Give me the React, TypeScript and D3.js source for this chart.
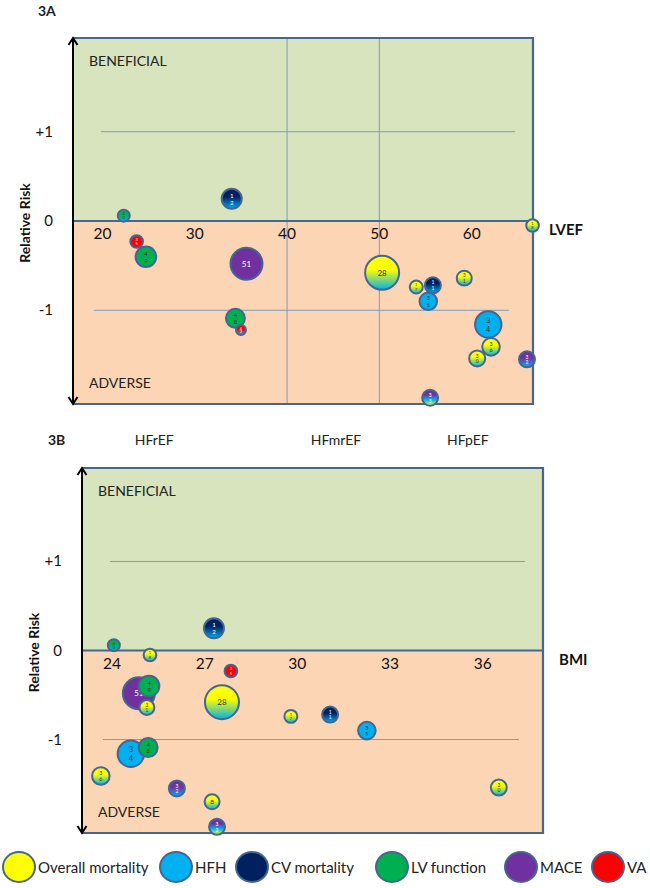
import React from "react";
import * as d3 from "d3";

// outcomes (legend) and their colours
const outcomeNames = ["Overall mortality", "HFH", "CV mortality", "LV function", "MACE", "VA"];
const outcomeColors = ["#ffff00", "#00b0f0", "#002060", "#00b050", "#7030a0", "#ff0000"];

// one entry per study bubble
const studyRefs = ["12", "40", "35", "49", "51", "48", "42", "18", "28", "17", "11", "35", "31", "34", "36", "30", "32", "33", "8"];
const studyOutcomes = [
  ["CV mortality", "HFH"],
  ["LV function", "HFH"],
  ["VA"],
  ["LV function"],
  ["MACE"],
  ["LV function"],
  ["VA", "HFH"],
  ["Overall mortality", "HFH"],
  ["Overall mortality", "HFH"],
  ["Overall mortality", "HFH"],
  ["CV mortality", "HFH"],
  ["HFH"],
  ["Overall mortality", "HFH"],
  ["HFH"],
  ["Overall mortality", "HFH"],
  ["Overall mortality", "HFH"],
  ["MACE", "HFH"],
  ["MACE", "HFH", "Overall mortality"],
  ["Overall mortality", "HFH"],
];
const studyWeights = [100, 36, 40, 106, 256, 90, 25, 40, 289, 42, 64, 77, 56, 174, 77, 64, 64, 64, 56];
const relativeRisk = [0.25, 0.06, -0.23, -0.4, -0.48, -1.09, -1.22, -0.05, -0.58, -0.74, -0.72, -0.9, -0.64, -1.16, -1.41, -1.54, -1.55, -1.98, -1.7];
const lvefValues = [34.0, 22.3, 23.7, 24.7, 35.6, 34.4, 35.0, 66.6, 50.3, 54.0, 55.8, 55.3, 59.2, 61.8, 62.1, 60.6, 66.0, 55.5, null];
const bmiValues = [27.3, 24.06, 27.85, 25.2, 24.87, 25.17, null, 25.23, 27.56, 29.79, 31.06, 32.25, 25.13, 24.61, 23.64, 36.52, 26.1, 27.4, 27.24];

// axes
const rrTicks = [1, 0, -1];
const rrTickLabels = ["+1", "0", "-1"];
const lvefTicks = [20, 30, 40, 50, 60];
const lvefGrid = [40, 50];
const bmiTicks = [24, 27, 30, 33, 36];
const efGroups = ["HFrEF", "HFmrEF", "HFpEF"];
const efGroupAt = [25.6, 45.3, 59.6];

const FONT = "Lato, 'Open Sans', sans-serif";
const BORDER = "#44668f";
const GRID = "#7f9cc0";
const darkOutcomes = ["CV mortality", "MACE", "VA"];

const colorOf = (name: string) => outcomeColors[outcomeNames.indexOf(name)];
const gradId = (outs: string[]) => "g-" + outs.map((o) => outcomeNames.indexOf(o)).join("-");

const rScale = d3.scaleSqrt().domain([0, d3.max(studyWeights) as number]).range([0, 17]);

function gradStops(cols: string[]) {
  if (cols.length === 1) return [{ o: 0, c: cols[0] }, { o: 1, c: cols[0] }];
  if (cols.length === 2) return [{ o: 0, c: cols[0] }, { o: 0.4, c: cols[0] }, { o: 1, c: cols[1] }];
  return [{ o: 0, c: cols[0] }, { o: 0.3, c: cols[0] }, { o: 0.62, c: cols[1] }, { o: 1, c: cols[2] }];
}

function Arrow({ x, y, dir }: { x: number; y: number; dir: number }) {
  // dir -1 = up, 1 = down
  return (
    <path
      d={`M${x - 4.5},${y - dir * 7} L${x},${y} L${x + 4.5},${y - dir * 7}`}
      fill="none"
      stroke="#000"
      strokeWidth={2}
    />
  );
}

function Panel({ box, xDomain, xTicks, xValues, xLabel, vGrid }: any) {
  const { x0, x1, y0, y1 } = box;
  const x = d3.scaleLinear().domain(xDomain).range([x0, x1]);
  const y = d3.scaleLinear().domain([-2.05, 2.05]).range([y1, y0]);
  const zero = y(0);

  const pts = studyRefs
    .map((ref, i) => ({ ref, i, xv: xValues[i], r: rScale(studyWeights[i]), outs: studyOutcomes[i] }))
    .filter((d) => d.xv != null)
    .sort((a, b) => b.r - a.r);

  return (
    <g>
      <rect x={x0} y={y0} width={x1 - x0} height={zero - y0} fill="#d7e4bd" />
      <rect x={x0} y={zero} width={x1 - x0} height={y1 - zero} fill="#fcd5b5" />

      {/* grid */}
      <line x1={x0 + 28} x2={x1 - 18} y1={y(1)} y2={y(1)} stroke={GRID} strokeWidth={1} />
      <line x1={x0 + 21} x2={x1 - 24} y1={y(-1)} y2={y(-1)} stroke={GRID} strokeWidth={1} />
      {vGrid.map((v: number) => (
        <line key={v} x1={x(v)} x2={x(v)} y1={y0} y2={y1} stroke={GRID} strokeWidth={1} />
      ))}

      {/* border */}
      <path d={`M${x0},${y0} H${x1} V${y1} H${x0}`} fill="none" stroke={BORDER} strokeWidth={2.2} />
      <line x1={x0} x2={x1} y1={zero} y2={zero} stroke={BORDER} strokeWidth={2} />
      <line x1={x0} x2={x0} y1={y0 + 1} y2={y1 - 1} stroke="#000" strokeWidth={2} />
      <Arrow x={x0} y={y0} dir={-1} />
      <Arrow x={x0} y={y1} dir={1} />

      {/* y ticks */}
      {rrTicks.map((t, i) => (
        <text key={t} x={x0 - 20} y={y(t) + 5} textAnchor="end" fontSize={15} fontFamily={FONT} fill="#111">
          {rrTickLabels[i]}
        </text>
      ))}
      <text
        transform={`translate(${x0 - 43},${zero + 2}) rotate(-90)`}
        textAnchor="middle"
        fontSize={14}
        fontWeight="bold"
        fontFamily={FONT}
        fill="#111"
      >
        Relative Risk
      </text>

      {/* x ticks */}
      {xTicks.map((t: number) => (
        <text key={t} x={x(t)} y={zero + 18} textAnchor="middle" fontSize={15.5} fontFamily={FONT} fill="#111">
          {t}
        </text>
      ))}
      <text x={x1 + 16} y={zero + 14} fontSize={15} fontWeight="bold" fontFamily={FONT} fill="#111">
        {xLabel}
      </text>

      <text x={x0 + 16} y={y0 + 28} fontSize={14} fontFamily={FONT} fill="#222">
        BENEFICIAL
      </text>
      <text x={x0 + 16} y={y1 - 16} fontSize={14} fontFamily={FONT} fill="#222">
        ADVERSE
      </text>

      {/* bubbles */}
      {pts.map((d) => {
        const cx = x(d.xv);
        const cy = y(relativeRisk[d.i]);
        const fill = d.outs.length === 1 ? colorOf(d.outs[0]) : `url(#${gradId(d.outs)})`;
        const tc = darkOutcomes.includes(d.outs[0]) ? "#fff" : "#333";
        const single = d.r >= 15 || d.ref.length === 1;
        const fs = single ? Math.min(8, Math.max(6.5, d.r * 0.5)) : Math.max(4, Math.min(7.5, d.r * 0.62));
        return (
          <g key={d.i}>
            <circle cx={cx} cy={cy} r={d.r} fill={fill} stroke={BORDER} strokeWidth={2} />
            {single ? (
              <text x={cx} y={cy + fs * 0.35} textAnchor="middle" fontSize={fs} fontFamily={FONT} fill={tc}>
                {d.ref}
              </text>
            ) : (
              d.ref.split("").map((ch, k) => (
                <text
                  key={k}
                  x={cx}
                  y={cy + (k === 0 ? -d.r * 0.32 : d.r * 0.38) + fs * 0.35}
                  textAnchor="middle"
                  fontSize={fs}
                  fontFamily={FONT}
                  fill={tc}
                >
                  {ch}
                </text>
              ))
            )}
          </g>
        );
      })}
    </g>
  );
}

export default function App() {
  const combos = Array.from(new Set(studyOutcomes.filter((o) => o.length > 1).map((o) => o.join("|")))).map((s) =>
    s.split("|")
  );

  const boxA = { x0: 73, x1: 533, y0: 38, y1: 404 };
  const boxB = { x0: 82, x1: 543, y0: 468, y1: 833 };
  const lvefX = d3.scaleLinear().domain([16.8, 66.65]).range([boxA.x0, boxA.x1]);

  const legendX = [19, 176, 252, 392, 521, 608];

  return (
    <div style={{ position: "absolute", left: 0, top: 0 }}>
      <svg width={650} height={888} style={{ display: "block", background: "#fff" }}>
        <defs>
          {combos.map((outs) => (
            <linearGradient key={gradId(outs)} id={gradId(outs)} x1="0" y1="0" x2="0" y2="1">
              {gradStops(outs.map(colorOf)).map((s, k) => (
                <stop key={k} offset={s.o} stopColor={s.c} />
              ))}
            </linearGradient>
          ))}
        </defs>

        <text x={38} y={16} fontSize={14} fontWeight="bold" fontFamily={FONT} fill="#222">
          3A
        </text>
        <Panel box={boxA} xDomain={[16.8, 66.65]} xTicks={lvefTicks} xValues={lvefValues} xLabel="LVEF" vGrid={lvefGrid} />

        <text x={48} y={445} fontSize={14} fontWeight="bold" fontFamily={FONT} fill="#222">
          3B
        </text>
        {efGroups.map((g, i) => (
          <text key={g} x={lvefX(efGroupAt[i])} y={445} textAnchor="middle" fontSize={14} fontFamily={FONT} fill="#222">
            {g}
          </text>
        ))}
        <Panel box={boxB} xDomain={[23.03, 37.95]} xTicks={bmiTicks} xValues={bmiValues} xLabel="BMI" vGrid={[]} />

        {/* legend */}
        {outcomeNames.map((name, i) => (
          <g key={name}>
            <ellipse cx={legendX[i]} cy={867} rx={16} ry={15} fill={outcomeColors[i]} stroke={BORDER} strokeWidth={2} />
            <text x={legendX[i] + 19} y={873} fontSize={15} fontFamily={FONT} fill="#222">
              {name}
            </text>
          </g>
        ))}
      </svg>
    </div>
  );
}
